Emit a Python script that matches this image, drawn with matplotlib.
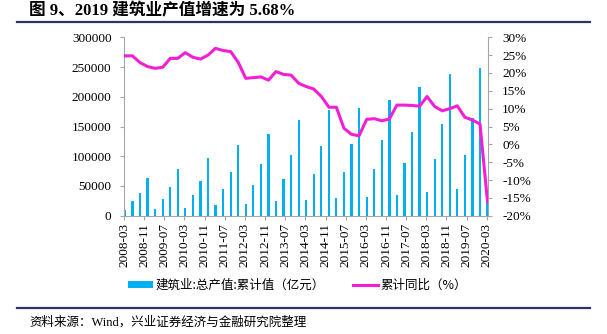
import pandas as pd
import matplotlib
matplotlib.use('Agg')
import matplotlib.pyplot as plt
import matplotlib.dates as mdates
from matplotlib.ticker import FuncFormatter

plt.rcParams['font.family'] = ['Liberation Serif', 'Noto Sans CJK SC', 'DejaVu Sans']

# 季度数据 2008-03 ~ 2020-03
dates = pd.date_range('2008-03-01', '2020-03-01', freq='3MS')

# 建筑业:总产值:累计值(亿元)
output_value = [
    9600, 24700, 38700, 63900,
    11300, 28100, 48300, 78500,
    13500, 34800, 58900, 96500,
    17500, 44400, 73500, 118400,
    20200, 51600, 86400, 137900,
    24200, 61700, 102100, 161500,
    26900, 70600, 117200, 177800,
    29200, 73500, 120100, 181700,
    32000, 78600, 127300, 194600,
    34800, 88100, 140300, 216000,
    40400, 95400, 154200, 237800,
    44400, 102100, 163800, 248400,
    33000,
]

# 累计同比(%)
yoy = [
    24.8, 24.8, 22.9, 21.8,
    21.3, 21.6, 24.1, 24.1,
    25.7, 24.4, 23.9, 25.0,
    26.9, 26.3, 26.0, 23.0,
    18.5, 18.7, 18.9, 18.0,
    20.4, 19.6, 19.4, 17.1,
    16.2, 15.5, 13.4, 10.4,
    10.4, 4.5, 2.8, 2.4,
    7.0, 7.2, 6.6, 7.1,
    11.0, 11.0, 10.9, 10.7,
    13.4, 10.6, 9.4, 10.0,
    10.8, 7.6, 6.8, 5.68,
    -16.1,
]

tick_dates = pd.date_range('2008-03-01', '2020-03-01', freq='8MS')

title = '图 9、2019 建筑业产值增速为 5.68%'
source = '资料来源：Wind，兴业证券经济与金融研究院整理'
bar_label = '建筑业:总产值:累计值（亿元）'
line_label = '累计同比（%）'

bar_color = '#00B0F0'
line_color = '#F21FD4'
navy = '#2E3466'
spine_color = '#A6A6A6'

fig = plt.figure(figsize=(6.07, 3.34), dpi=100)
ax = fig.add_axes([0.2043, 0.3542, 0.6001, 0.5341])
ax2 = ax.twinx()

x = dates + pd.Timedelta(days=10)
ax.bar(x, output_value, width=27, color=bar_color, label=bar_label, zorder=2)
ax2.plot(x, yoy, color=line_color, lw=2.2, label=line_label, zorder=3)

ax.set_xlim(pd.Timestamp('2008-03-01'), pd.Timestamp('2020-03-20'))
ax.set_ylim(0, 300000)
ax.set_yticks(range(0, 300001, 50000))
ax2.set_ylim(-20, 30)
ax2.set_yticks(range(-20, 31, 5))
ax2.yaxis.set_major_formatter(FuncFormatter(lambda v, p: f'{v:.0f}%'))

ax.set_xticks(tick_dates)
ax.xaxis.set_major_formatter(mdates.DateFormatter('%Y-%m'))
for lab in ax.get_xticklabels():
    lab.set_rotation(90)

for a in (ax, ax2):
    a.spines['top'].set_visible(False)
    for s in ('left', 'right', 'bottom'):
        a.spines[s].set_color(spine_color)
        a.spines[s].set_linewidth(0.8)
    a.tick_params(axis='both', colors=spine_color, labelcolor='black',
                  length=3, width=0.8, labelsize=9.5)
ax.tick_params(axis='x', pad=2)
ax.tick_params(axis='y', pad=6)
ax2.tick_params(axis='y', pad=7)
ax.spines['right'].set_visible(False)
ax2.spines['left'].set_visible(False)
ax2.spines['bottom'].set_visible(False)

# 图例
h1, l1 = ax.get_legend_handles_labels()
h2, l2 = ax2.get_legend_handles_labels()
fig.legend(h1 + h2, l1 + l2, loc='center', bbox_to_anchor=(0.49, 0.145),
           ncol=2, frameon=False, handlelength=2.0, handleheight=0.45,
           columnspacing=2.2, handletextpad=0.2,
           prop={'family': ['Noto Sans CJK SC'], 'size': 9})

# 标题与来源
fig.text(0.047, 0.965, title, fontsize=12, fontweight='bold', va='center', ha='left',
         family=['Liberation Serif', 'Noto Sans CJK SC'])
fig.add_artist(plt.Line2D([0.028, 0.972], [0.934, 0.934], color=navy, lw=1.6,
                          transform=fig.transFigure))
fig.add_artist(plt.Line2D([0.028, 0.972], [0.077, 0.077], color=navy, lw=1.6,
                          transform=fig.transFigure))
fig.text(0.048, 0.036, source, fontsize=9, va='center', ha='left',
         family=['Liberation Serif', 'Noto Sans CJK SC'])

fig.savefig('out.png', dpi=100)
